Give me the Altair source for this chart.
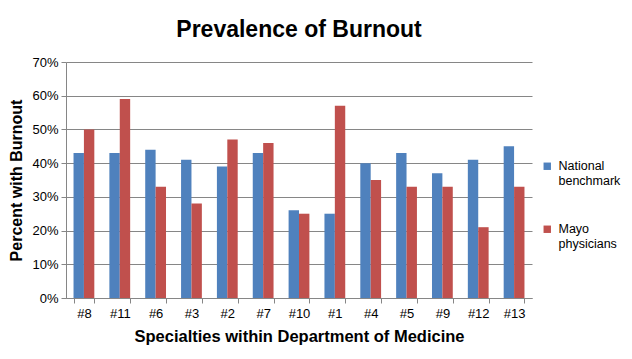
import altair as alt
import pandas as pd

categories = ["#8", "#11", "#6", "#3", "#2", "#7", "#10", "#1", "#4", "#5", "#9", "#12", "#13"]
national = [43, 43, 44, 41, 39, 43, 26, 25, 40, 43, 37, 41, 45]
mayo = [50, 59, 33, 28, 47, 46, 25, 57, 35, 33, 33, 21, 33]
series = ["National benchmark", "Mayo physicians"]

rows = []
for c, n, m in zip(categories, national, mayo):
    rows.append({"cat": c, "series": series[0], "value": n / 100})
    rows.append({"cat": c, "series": series[1], "value": m / 100})
df = pd.DataFrame(rows)

FONT = "Liberation Sans"

chart = alt.Chart(df).mark_bar().encode(
    x=alt.X("cat:N", sort=categories,
            scale=alt.Scale(paddingInner=0.42, paddingOuter=0.21),
            axis=alt.Axis(title="Specialties within Department of Medicine", labelAngle=0,
                          tickBand="extent", grid=False)),
    xOffset=alt.XOffset("series:N", sort=series, scale=alt.Scale(paddingInner=0, paddingOuter=0)),
    y=alt.Y("value:Q", scale=alt.Scale(domain=[0, 0.7]),
            axis=alt.Axis(title="Percent with Burnout", format=".0%", values=[0, .1, .2, .3, .4, .5, .6, .7])),
    color=alt.Color("series:N", sort=series,
                    scale=alt.Scale(domain=series, range=["#4F81BD", "#C0504D"]),
                    legend=alt.Legend(title=None, orient="none", legendX=541 - 66, legendY=160 - 62,
                                      symbolType="square", symbolSize=55, symbolStrokeWidth=0,
                                      labelExpr="split(datum.label, ' ')",
                                      labelFontSize=12.5, labelFont=FONT, labelColor="#000",
                                      rowPadding=35, labelOffset=5)),
).properties(
    width=466, height=236,
    title=alt.TitleParams("Prevalence of Burnout", fontSize=23, font=FONT, fontWeight="bold",
                          color="#000", anchor="middle", offset=14),
    autosize=alt.AutoSizeParams(type="none"),
    padding={"left": 58, "top": 54, "right": 92, "bottom": 50},
).configure_view(stroke=None).configure_axis(
    labelFont=FONT, labelFontSize=13, labelColor="#000",
    titleFont=FONT, titleFontWeight="bold", titleColor="#000",
    domainColor="#868686", tickColor="#868686", gridColor="#868686", gridWidth=1,
    tickSize=5,
).configure_axisY(titlePadding=7, labelPadding=3, titleFontSize=16).configure_axisX(
    titlePadding=8, labelPadding=4, titleFontSize=16.5)

chart.save("out.html", embed_options={"renderer": "svg", "actions": False})
